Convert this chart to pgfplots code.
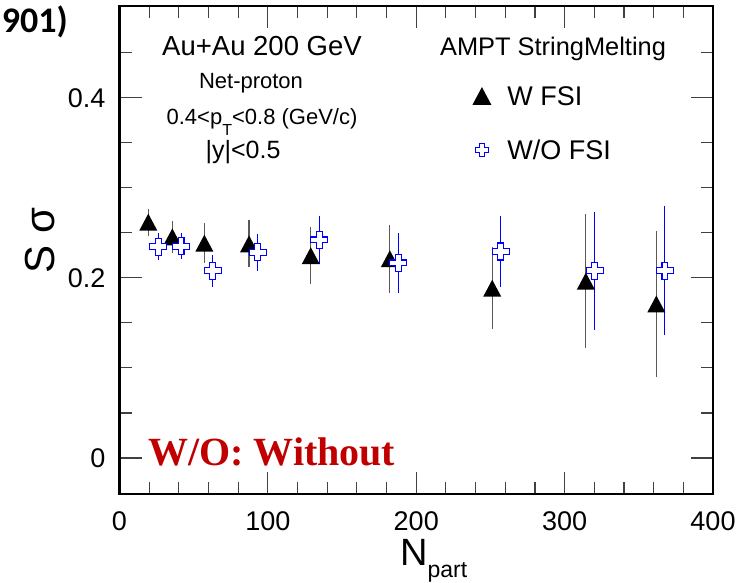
\documentclass[border=0pt]{standalone}
\usepackage{fontspec}
\setmainfont{Liberation Sans}
\newfontfamily\serifb{Liberation Serif}
\newfontfamily\calib{Carlito}
\usepackage{pgfplots}
\usepackage{pgfplotstable}
\pgfplotsset{compat=1.18}
\definecolor{wored}{RGB}{192,0,0}

\pgfdeclareplotmark{rtri}{%
 \pgfpathmoveto{\pgfqpoint{0pt}{0.94\pgfplotmarksize}}%
 \pgfpathlineto{\pgfqpoint{-\pgfplotmarksize}{-0.94\pgfplotmarksize}}%
 \pgfpathlineto{\pgfqpoint{\pgfplotmarksize}{-0.94\pgfplotmarksize}}%
 \pgfpathclose\pgfusepathqfill}
\pgfdeclareplotmark{ocross}{%
 \pgfpathmoveto{\pgfqpoint{-0.34\pgfplotmarksize}{\pgfplotmarksize}}%
 \pgfpathlineto{\pgfqpoint{0.34\pgfplotmarksize}{\pgfplotmarksize}}%
 \pgfpathlineto{\pgfqpoint{0.34\pgfplotmarksize}{0.34\pgfplotmarksize}}%
 \pgfpathlineto{\pgfqpoint{\pgfplotmarksize}{0.34\pgfplotmarksize}}%
 \pgfpathlineto{\pgfqpoint{\pgfplotmarksize}{-0.34\pgfplotmarksize}}%
 \pgfpathlineto{\pgfqpoint{0.34\pgfplotmarksize}{-0.34\pgfplotmarksize}}%
 \pgfpathlineto{\pgfqpoint{0.34\pgfplotmarksize}{-\pgfplotmarksize}}%
 \pgfpathlineto{\pgfqpoint{-0.34\pgfplotmarksize}{-\pgfplotmarksize}}%
 \pgfpathlineto{\pgfqpoint{-0.34\pgfplotmarksize}{-0.34\pgfplotmarksize}}%
 \pgfpathlineto{\pgfqpoint{-\pgfplotmarksize}{-0.34\pgfplotmarksize}}%
 \pgfpathlineto{\pgfqpoint{-\pgfplotmarksize}{0.34\pgfplotmarksize}}%
 \pgfpathlineto{\pgfqpoint{-0.34\pgfplotmarksize}{0.34\pgfplotmarksize}}%
 \pgfpathclose\pgfusepathqfillstroke}

\pgfplotstableread{
x y e
19.4 0.262 0.015
35.6 0.2456 0.018
57.2 0.2386 0.022
87.3 0.2378 0.026
128.9 0.2247 0.0317
182.2 0.2213 0.0376
251.2 0.1886 0.0456
314.3 0.1965 0.0746
361.8 0.1711 0.0815
}\wfsi
\pgfplotstableread{
x y e
26.2 0.2348 0.0148
41.5 0.235 0.0145
62.8 0.208 0.0176
93.2 0.2285 0.0206
134.7 0.2422 0.027
188 0.2167 0.033
257 0.2293 0.0398
320.2 0.2081 0.0654
367.6 0.2081 0.0717
}\wofsi

\begin{document}
\begin{tikzpicture}
\begin{axis}[
 scale only axis, width=593.5pt, height=488pt,
 xmin=0, xmax=400, ymin=-0.04, ymax=0.502,
 xtick={0,100,200,300,400}, minor x tick num=4,
 ytick={0,0.2,0.4}, minor ytick={0.05,0.1,0.15,0.25,0.3,0.35,0.45},
 tick align=inside, major tick length=22pt, minor tick length=12pt,
 tick style={black!75, line width=1.1pt},
 /pgf/number format/assume math mode=true,
 ticklabel style={font=\fontsize{27}{27}\selectfont},
 xticklabel style={inner sep=0pt, yshift=-17pt},
 yticklabel style={inner sep=0pt, xshift=-14pt},
 legend style={draw=none, fill=none, inner sep=0pt,
   at={(rel axis cs:0.5943,0.8353)}, anchor=north west,
   font=\fontsize{27}{27}\selectfont,
   row sep=34.7pt, column sep=16pt,
   nodes={inner sep=0pt, text depth=0pt}},
 legend cell align=left,
 after end axis/.code={\draw[line width=2.2pt, black] (rel axis cs:0,0) rectangle (rel axis cs:1,1);},
]
% error bars first (behind the markers)
\addplot[forget plot, draw=none, mark=none,
  error bars/.cd, y dir=both, y explicit, error mark=none,
  error bar style={line width=1.1pt, draw=black!65}]
  table[x=x, y=y, y error=e]{\wfsi};
\addplot[forget plot, draw=none, mark=none,
  error bars/.cd, y dir=both, y explicit, error mark=none,
  error bar style={line width=1.05pt, draw=blue}]
  table[x=x, y=y, y error=e]{\wofsi};
% markers
\addplot[forget plot, only marks, mark=rtri, mark size=9pt, black]
  table[x=x, y=y]{\wfsi};
\addplot[forget plot, only marks, mark=ocross, mark size=8.5pt,
  mark options={draw=blue, fill=white, line width=1.1pt}]
  table[x=x, y=y]{\wofsi};
\addlegendimage{only marks, mark=rtri, mark size=9.5pt, black}
\addlegendentry{W FSI}
\addlegendimage{only marks, mark=ocross, mark size=6.5pt, mark options={draw=blue, fill=white, line width=1pt}}
\addlegendentry{W/O FSI}
\end{axis}
\node[anchor=base, font=\fontsize{27.5}{27.5}\selectfont] at (142.5pt,438pt) {Au+Au 200 GeV};
\node[anchor=base, font=\fontsize{22}{22}\selectfont] at (131.5pt,405pt) {Net-proton};
\node[anchor=base, font=\fontsize{22}{22}\selectfont] at (142.5pt,369pt) {0.4<p\raisebox{-11pt}{\fontsize{16}{16}\selectfont T}<0.8 (GeV/c)};
\node[anchor=base, font=\fontsize{25}{25}\selectfont] at (123.5pt,335pt) {|y|<0.5};
\node[anchor=base, font=\fontsize{25.4}{25.4}\selectfont] at (433.5pt,438pt) {AMPT StringMelting};
\node[anchor=base west, inner sep=0pt, text=wored, font=\fontsize{40}{40}\serifb\bfseries] at (28.5pt,28pt) {W/O: Without};
\node[anchor=base east, inner sep=0pt, font=\fontsize{36}{36}\calib\bfseries] at (-51.5pt,461pt) {901)};
\node[anchor=base west, inner sep=0pt, font=\fontsize{38}{38}\selectfont] at (280.5pt,-72pt) {N\raisebox{-12pt}{\fontsize{23}{23}\selectfont part}};
\node[anchor=base, rotate=90, inner sep=0pt, font=\fontsize{42}{42}\selectfont] at (-64.5pt,253.5pt) {S σ};
\pgfresetboundingbox
\path[use as bounding box] (-119.5pt,-89pt) rectangle (632.5pt,494pt);
\end{tikzpicture}
\end{document}
